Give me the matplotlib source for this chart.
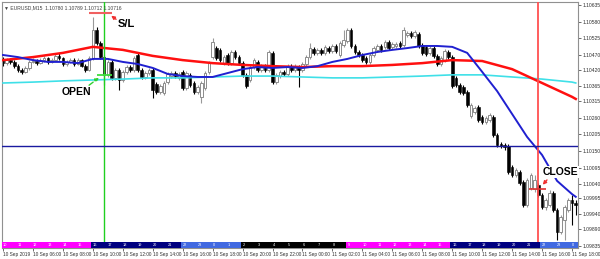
import matplotlib
matplotlib.use("Agg")
import matplotlib.pyplot as plt
import matplotlib.transforms as mtransforms
from matplotlib.patches import Rectangle
import numpy as np

# EURUSD M15, 10-11 Sep 2019 (bar = 15 min)
opens = [1.10452, 1.10442, 1.10452, 1.10446, 1.10432, 1.10419, 1.10413, 1.10426, 1.10446, 1.10449,
         1.10442, 1.10452, 1.10459, 1.10446, 1.10452, 1.10466, 1.10459, 1.10439, 1.10446, 1.10452,
         1.10439, 1.10452, 1.10432, 1.10419, 1.10459, 1.10552, 1.10509, 1.10462, 1.10403, 1.10446,
         1.10393, 1.10419, 1.10386, 1.10413, 1.10429, 1.10419, 1.10469, 1.10419, 1.10396, 1.10409,
         1.10419, 1.10373, 1.10346, 1.10343, 1.10379, 1.10399, 1.10409, 1.10393, 1.10413, 1.10359,
         1.10403, 1.10376, 1.10346, 1.10330, 1.10359, 1.10413, 1.10462, 1.10492, 1.10486, 1.10442,
         1.10469, 1.10442, 1.10479, 1.10462, 1.10442, 1.10403, 1.10386, 1.10429, 1.10446, 1.10419,
         1.10432, 1.10419, 1.10476, 1.10379, 1.10399, 1.10413, 1.10406, 1.10432, 1.10419, 1.10429,
         1.10419, 1.10439, 1.10462, 1.10489, 1.10476, 1.10486, 1.10476, 1.10492, 1.10482, 1.10499,
         1.10469, 1.10502, 1.10515, 1.10552, 1.10499, 1.10479, 1.10469, 1.10459, 1.10446, 1.10469,
         1.10486, 1.10499, 1.10496, 1.10512, 1.10496, 1.10499, 1.10509, 1.10502, 1.10535, 1.10542,
         1.10532, 1.10539, 1.10502, 1.10496, 1.10476, 1.10492, 1.10466, 1.10439, 1.10452, 1.10479,
         1.10462, 1.10393, 1.10369, 1.10363, 1.10346, 1.10266, 1.10280, 1.10296, 1.10263, 1.10247,
         1.10253, 1.10263, 1.10203, 1.10173, 1.10170, 1.10167, 1.10097, 1.10071, 1.10081, 1.10047,
         1.09971, 1.10027, 1.10024, 1.10037, 1.10004, 1.09964, 1.09971, 1.10011, 1.09954, 1.09881,
         1.09921, 1.09954, 1.09988, 1.09978]
closes = [1.10442, 1.10452, 1.10446, 1.10432, 1.10419, 1.10413, 1.10426, 1.10446, 1.10449, 1.10442,
          1.10452, 1.10459, 1.10446, 1.10452, 1.10466, 1.10459, 1.10439, 1.10446, 1.10452, 1.10439,
          1.10452, 1.10432, 1.10419, 1.10459, 1.10552, 1.10509, 1.10462, 1.10403, 1.10446, 1.10393,
          1.10419, 1.10386, 1.10413, 1.10429, 1.10419, 1.10459, 1.10419, 1.10396, 1.10409, 1.10419,
          1.10353, 1.10346, 1.10366, 1.10376, 1.10406, 1.10409, 1.10399, 1.10406, 1.10359, 1.10409,
          1.10369, 1.10346, 1.10363, 1.10376, 1.10409, 1.10442, 1.10512, 1.10459, 1.10452, 1.10462,
          1.10442, 1.10479, 1.10462, 1.10442, 1.10403, 1.10366, 1.10429, 1.10452, 1.10419, 1.10432,
          1.10419, 1.10479, 1.10379, 1.10403, 1.10413, 1.10406, 1.10432, 1.10419, 1.10432, 1.10419,
          1.10439, 1.10462, 1.10492, 1.10476, 1.10486, 1.10476, 1.10496, 1.10482, 1.10499, 1.10482,
          1.10509, 1.10519, 1.10552, 1.10499, 1.10479, 1.10469, 1.10452, 1.10446, 1.10469, 1.10492,
          1.10499, 1.10486, 1.10512, 1.10492, 1.10505, 1.10505, 1.10499, 1.10552, 1.10542, 1.10532,
          1.10545, 1.10499, 1.10476, 1.10472, 1.10492, 1.10466, 1.10439, 1.10459, 1.10482, 1.10462,
          1.10366, 1.10369, 1.10346, 1.10343, 1.10303, 1.10303, 1.10293, 1.10253, 1.10247, 1.10260,
          1.10270, 1.10203, 1.10170, 1.10167, 1.10164, 1.10081, 1.10071, 1.10087, 1.10044, 1.09971,
          1.10054, 1.10071, 1.10054, 1.10004, 1.09964, 1.09988, 1.10011, 1.09954, 1.09881, 1.09931,
          1.09964, 1.09988, 1.09978, 1.09971]
highs = [1.10462, 1.10459, 1.10459, 1.10452, 1.10439, 1.10426, 1.10432, 1.10452, 1.10459, 1.10456,
         1.10459, 1.10466, 1.10462, 1.10459, 1.10472, 1.10476, 1.10462, 1.10452, 1.10459, 1.10459,
         1.10459, 1.10456, 1.10439, 1.10466, 1.10595, 1.10562, 1.10515, 1.10469, 1.10452, 1.10452,
         1.10426, 1.10426, 1.10419, 1.10436, 1.10436, 1.10466, 1.10476, 1.10426, 1.10416, 1.10426,
         1.10426, 1.10379, 1.10373, 1.10383, 1.10413, 1.10416, 1.10416, 1.10413, 1.10419, 1.10416,
         1.10409, 1.10383, 1.10369, 1.10383, 1.10416, 1.10449, 1.10525, 1.10499, 1.10492, 1.10469,
         1.10476, 1.10486, 1.10486, 1.10469, 1.10449, 1.10409, 1.10436, 1.10459, 1.10452, 1.10439,
         1.10439, 1.10486, 1.10482, 1.10409, 1.10419, 1.10419, 1.10439, 1.10439, 1.10439, 1.10436,
         1.10446, 1.10469, 1.10509, 1.10496, 1.10492, 1.10492, 1.10502, 1.10499, 1.10505, 1.10505,
         1.10515, 1.10552, 1.10559, 1.10559, 1.10505, 1.10486, 1.10476, 1.10466, 1.10476, 1.10499,
         1.10505, 1.10505, 1.10519, 1.10519, 1.10512, 1.10512, 1.10515, 1.10562, 1.10549, 1.10549,
         1.10552, 1.10545, 1.10509, 1.10502, 1.10499, 1.10499, 1.10472, 1.10466, 1.10489, 1.10486,
         1.10469, 1.10399, 1.10376, 1.10369, 1.10353, 1.10310, 1.10300, 1.10303, 1.10270, 1.10266,
         1.10276, 1.10270, 1.10210, 1.10180, 1.10177, 1.10173, 1.10104, 1.10094, 1.10087, 1.10054,
         1.10061, 1.10077, 1.10071, 1.10044, 1.10011, 1.09994, 1.10021, 1.10017, 1.09961, 1.09938,
         1.09971, 1.09994, 1.10004, 1.09988]
lows = [1.10432, 1.10436, 1.10439, 1.10426, 1.10413, 1.10406, 1.10409, 1.10419, 1.10442, 1.10436,
        1.10439, 1.10446, 1.10439, 1.10442, 1.10449, 1.10452, 1.10432, 1.10432, 1.10442, 1.10432,
        1.10436, 1.10429, 1.10413, 1.10416, 1.10452, 1.10502, 1.10456, 1.10369, 1.10396, 1.10386,
        1.10386, 1.10353, 1.10379, 1.10406, 1.10413, 1.10413, 1.10413, 1.10389, 1.10389, 1.10403,
        1.10326, 1.10339, 1.10339, 1.10336, 1.10373, 1.10393, 1.10393, 1.10386, 1.10353, 1.10353,
        1.10363, 1.10339, 1.10339, 1.10310, 1.10353, 1.10406, 1.10456, 1.10452, 1.10446, 1.10436,
        1.10436, 1.10436, 1.10456, 1.10436, 1.10396, 1.10359, 1.10379, 1.10422, 1.10413, 1.10413,
        1.10413, 1.10413, 1.10373, 1.10373, 1.10393, 1.10399, 1.10399, 1.10413, 1.10413, 1.10363,
        1.10413, 1.10432, 1.10456, 1.10469, 1.10469, 1.10469, 1.10469, 1.10476, 1.10476, 1.10476,
        1.10462, 1.10496, 1.10509, 1.10492, 1.10472, 1.10462, 1.10446, 1.10439, 1.10439, 1.10462,
        1.10479, 1.10479, 1.10489, 1.10486, 1.10489, 1.10492, 1.10492, 1.10496, 1.10529, 1.10525,
        1.10525, 1.10492, 1.10469, 1.10466, 1.10469, 1.10459, 1.10432, 1.10432, 1.10446, 1.10456,
        1.10359, 1.10363, 1.10339, 1.10336, 1.10296, 1.10260, 1.10273, 1.10247, 1.10240, 1.10240,
        1.10247, 1.10197, 1.10164, 1.10160, 1.10154, 1.10074, 1.10064, 1.10064, 1.10037, 1.09964,
        1.09964, 1.10021, 1.10014, 1.09998, 1.09958, 1.09954, 1.09964, 1.09948, 1.09855, 1.09875,
        1.09855, 1.09948, 1.09905, 1.09938]

# moving averages (bar index, price)
ma_slow_bars = [0, 8, 16, 24, 32, 40, 48, 56, 64, 72, 80, 88, 96, 104, 112, 120, 128, 136, 144, 152, 153]
ma_red = [1.10452, 1.10462, 1.10476, 1.10496, 1.10486, 1.10466, 1.10452, 1.10442, 1.10436, 1.10432,
          1.10429, 1.10432, 1.10432, 1.10436, 1.10442, 1.10452, 1.10449, 1.10422, 1.10376, 1.10330, 1.10323]
ma_cyan = [1.10376, 1.10379, 1.10383, 1.10386, 1.10389, 1.10393, 1.10393, 1.10396, 1.10399, 1.10399,
           1.10396, 1.10393, 1.10393, 1.10396, 1.10399, 1.10403, 1.10403, 1.10396, 1.10389, 1.10379, 1.10376]
ma_blue_bars = list(range(0, 153, 4)) + [153]
ma_blue = [1.10469, 1.10462, 1.10452, 1.10446, 1.10446, 1.10442, 1.10456, 1.10456, 1.10446, 1.10439,
           1.10426, 1.10406, 1.10399, 1.10396, 1.10396, 1.10409, 1.10422, 1.10429, 1.10426, 1.10429,
           1.10426, 1.10432, 1.10446, 1.10456, 1.10469, 1.10479, 1.10486, 1.10492, 1.10499, 1.10499,
           1.10496, 1.10476, 1.10413, 1.10349, 1.10273, 1.10197, 1.10137, 1.10051, 1.10007, 1.09998]

# trade
open_bar, close_bar = 27, 143
open_price, sl_price, close_price = 1.10403, 1.10608, 1.10024
level_price = 1.10167

price_ticks = [1.10635, 1.10580, 1.10525, 1.10470, 1.10420, 1.10365, 1.10315, 1.10260,
               1.10205, 1.10150, 1.10095, 1.10040, 1.09995, 1.09940, 1.09890, 1.09835]
date_labels = ['10 Sep 2019', '10 Sep 06:00', '10 Sep 08:00', '10 Sep 10:00', '10 Sep 12:00',
               '10 Sep 14:00', '10 Sep 16:00', '10 Sep 18:00', '10 Sep 20:00', '10 Sep 22:00',
               '11 Sep 00:00', '11 Sep 02:00', '11 Sep 04:00', '11 Sep 06:00', '11 Sep 08:00',
               '11 Sep 10:00', '11 Sep 12:00', '11 Sep 14:00', '11 Sep 16:00', '11 Sep 18:00']
session_hours = [(10 + i) % 24 for i in range(39)]
session_colors = {'asia': '#000000', 'europe': '#ff00ff', 'us': '#000080', 'late': '#4169e1'}


def session_of(h):
    if 9 <= h <= 15:
        return 'europe'
    if 16 <= h <= 21:
        return 'us'
    if h >= 22 or h <= 1:
        return 'late'
    return 'asia'


lab_font = ['Liberation Sans', 'DejaVu Sans']
big_font = ['Liberation Sans Narrow', 'Liberation Sans', 'DejaVu Sans']

fig = plt.figure(figsize=(6, 2.59), dpi=100)
ax = fig.add_axes([2 / 600, 11 / 259, 576 / 600, 246 / 259])

n = len(opens)
x = np.arange(n)
o, c, h, l = map(np.array, (opens, closes, highs, lows))
up = c >= o
# wicks
ax.vlines(x[up], l[up], h[up], color='#999999', lw=0.8, zorder=2)
ax.vlines(x[~up], l[~up], h[~up], color='black', lw=0.8, zorder=2)
body_lo = np.minimum(o, c)
body_h = np.maximum(np.abs(c - o), 0.000012)
ax.bar(x[up], body_h[up], bottom=body_lo[up], width=0.7, color='white',
       edgecolor='#8c8c8c', linewidth=0.7, zorder=2.1)
ax.bar(x[~up], body_h[~up], bottom=body_lo[~up], width=0.7, color='black',
       edgecolor='black', linewidth=0.4, zorder=2.1)

# moving averages
ax.plot(ma_slow_bars, ma_cyan, color='#3fe0e8', lw=1.2, zorder=3)
ax.plot(ma_slow_bars, ma_red, color='#ff1010', lw=1.8, zorder=3.1)
ax.plot(ma_blue_bars, ma_blue, color='#2020d0', lw=1.4, zorder=3.2)

# trade lines
ax.axvline(open_bar, color='#20d020', lw=1.0, zorder=3.5)
ax.axvline(close_bar, color='#ff5050', lw=1.3, zorder=3.5)
ax.axhline(level_price, color='#1a1aa0', lw=1.0, zorder=3.5)
ax.hlines(sl_price, open_bar - 4, open_bar + 2, color='#f06060', lw=1.5, zorder=4)
ax.hlines(open_price, open_bar - 2, open_bar + 2, color='#40dd40', lw=1.3, zorder=4)
ax.hlines(close_price, close_bar - 2.4, close_bar + 2, color='#e03030', lw=1.2, zorder=4)

ax.annotate('', xy=(28.3, 1.10605), xytext=(30.8, 1.10582),
            arrowprops=dict(arrowstyle='-|>', color='#f03030', lw=1.0, mutation_scale=5), zorder=5)
ax.text(33.0, 1.10572, 'S/L', fontsize=8, fontweight='bold', family=big_font,
        ha='center', va='center', zorder=5)
ax.annotate('', xy=(26.2, 1.10399), xytext=(22.4, 1.10363),
            arrowprops=dict(arrowstyle='-|>', color='#30d030', lw=1.0, ls='--', mutation_scale=5), zorder=5)
ax.text(19.5, 1.10346, 'OPEN', fontsize=7.5, fontweight='bold', family=big_font,
        ha='center', va='center', zorder=5)
ax.annotate('', xy=(143.7, 1.10031), xytext=(145.8, 1.10061),
            arrowprops=dict(arrowstyle='-|>', color='#f03030', lw=1.0, mutation_scale=5), zorder=5)
ax.text(149.0, 1.10081, 'CLOSE', fontsize=7.5, fontweight='bold', family=big_font,
        ha='center', va='center', zorder=5,
        bbox=dict(facecolor='white', edgecolor='none', pad=0.5))

ax.text(0.004, 0.985, '\u25bc EURUSD,M15  1.10780 1.10789 1.10712 1.10716', transform=ax.transAxes,
        fontsize=3.6, color='#404040', ha='left', va='top', family=lab_font, zorder=6)

# session bar along the bottom
trans = mtransforms.blended_transform_factory(ax.transData, ax.transAxes)
for i, hr in enumerate(session_hours):
    left = 4 * i - 0.5
    ax.add_patch(Rectangle((left, 0), 4, 0.024, transform=trans,
                           facecolor=session_colors[session_of(hr)], edgecolor='none', zorder=7))
    ax.text(left + 0.5, 0.012, str(hr), transform=trans, fontsize=2.8, color='white',
            ha='left', va='center', family=lab_font, zorder=8)

ax.set_xlim(-0.27, 153.6)
ax.set_ylim(1.09828, 1.10645)

ax.set_xticks(range(0, n, 8))
ax.set_xticklabels(date_labels)
ax.tick_params(axis='x', direction='out', length=2, width=0.5, pad=1, labelsize=3.4, colors='#303030')
for t in ax.get_xticklabels():
    t.set_ha('left')
    t.set_family(lab_font)

ax.yaxis.tick_right()
ax.set_yticks(price_ticks)
ax.set_yticklabels(['%.5f' % p for p in price_ticks])
ax.tick_params(axis='y', direction='out', length=2, width=0.5, pad=1.5, labelsize=3.6, colors='#303030')
for t in ax.get_yticklabels():
    t.set_family(lab_font)

for s in ax.spines.values():
    s.set_color('#909090')
    s.set_linewidth(0.8)

fig.savefig('out.png', dpi=100)
